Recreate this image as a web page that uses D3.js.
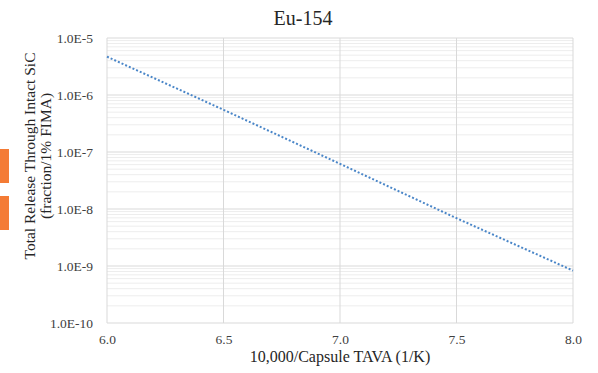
<!DOCTYPE html>
<html>
<head>
<meta charset="utf-8">
<script src="https://cdn.jsdelivr.net/npm/d3@7"></script>
<style>
  html, body { margin: 0; padding: 0; background: #fff; }
  svg { display: block; }
  svg text { font-family: "Liberation Serif", "Times New Roman", serif; }
</style>
</head>
<body>
<svg id="chart" width="598" height="373"></svg>
<script>
// Total release of Eu-154 through intact SiC versus inverse capsule temperature
const inverseTemp = [6.0, 6.5, 7.0, 7.5, 8.0];
const release = [4.7e-6, 5.5e-7, 6.2e-8, 6.9e-9, 8.3e-10];

const xTicks = [6.0, 6.5, 7.0, 7.5, 8.0];
const yTicks = [1e-10, 1e-9, 1e-8, 1e-7, 1e-6, 1e-5];
const yTickLabels = ["1.0E-10", "1.0E-9", "1.0E-8", "1.0E-7", "1.0E-6", "1.0E-5"];

const SERIF = "Liberation Serif";
const svg = d3.select("#chart");
const margin = { left: 107, right: 25, top: 38, bottom: 50 };
const W = 598, H = 373;
const x0 = margin.left, x1 = W - margin.right;
const y0 = margin.top, y1 = H - margin.bottom;

const x = d3.scaleLinear().domain([6.0, 8.0]).range([x0, x1]);
const y = d3.scaleLog().domain([1e-10, 1e-5]).range([y1, y0]);

// minor gridlines at 2..9 within each decade
const minor = [];
for (let e = -10; e < -5; e++) {
  for (let m = 2; m <= 9; m++) minor.push(m * Math.pow(10, e));
}

const grid = svg.append("g");
grid.selectAll("line.minor").data(minor).join("line")
  .attr("class", "minor")
  .attr("x1", x0).attr("x2", x1)
  .attr("y1", d => y(d)).attr("y2", d => y(d))
  .attr("stroke", "#ededed").attr("stroke-width", 1);

grid.selectAll("line.major").data(yTicks).join("line")
  .attr("class", "major")
  .attr("x1", x0).attr("x2", x1)
  .attr("y1", d => y(d)).attr("y2", d => y(d))
  .attr("stroke", "#d9d9d9").attr("stroke-width", 1);

grid.selectAll("line.vert").data(xTicks).join("line")
  .attr("class", "vert")
  .attr("x1", d => x(d)).attr("x2", d => x(d))
  .attr("y1", y0).attr("y2", y1)
  .attr("stroke", "#d9d9d9").attr("stroke-width", 1);

// axes (tick labels only)
const xAxis = d3.axisBottom(x).tickValues(xTicks).tickFormat(d3.format(".1f")).tickSize(0).tickPadding(11);
svg.append("g").attr("transform", `translate(0,${y1})`).call(xAxis)
  .attr("font-family", SERIF).attr("font-size", 13.5)
  .call(g => g.select(".domain").remove())
  .selectAll("text").attr("fill", "#404040");

const yAxis = d3.axisLeft(y).tickValues(yTicks)
  .tickFormat((d, i) => yTickLabels[i]).tickSize(0).tickPadding(14);
svg.append("g").attr("transform", `translate(${x0},0)`).call(yAxis)
  .attr("font-family", SERIF).attr("font-size", 13.5)
  .call(g => g.select(".domain").remove())
  .selectAll("text").attr("fill", "#404040");

// data line
const line = d3.line().x((d, i) => x(inverseTemp[i])).y(d => y(d));
svg.append("path").datum(release)
  .attr("d", line)
  .attr("fill", "none")
  .attr("stroke", "#4a86c8")
  .attr("stroke-width", 2)
  .attr("stroke-dasharray", "2,2");

// title
svg.append("text").attr("x", 303).attr("y", 25)
  .attr("text-anchor", "middle").attr("font-size", 20).attr("fill", "#262626")
  .text("Eu-154");

// axis titles
svg.append("text").attr("x", 340).attr("y", 362)
  .attr("text-anchor", "middle").attr("font-size", 16).attr("fill", "#262626")
  .text("10,000/Capsule TAVA (1/K)");

const yLab = svg.append("text")
  .attr("transform", "translate(35,156) rotate(-90)")
  .attr("text-anchor", "middle").attr("font-size", 15.5).attr("fill", "#262626");
yLab.append("tspan").attr("x", 0).attr("dy", 0).text("Total Release Through Intact SiC");
yLab.append("tspan").attr("x", 0).attr("dy", 16).text("(fraction/1% FIMA)");

// side markers
svg.append("rect").attr("x", 0).attr("y", 149).attr("width", 9).attr("height", 34).attr("fill", "#f47b35");
svg.append("rect").attr("x", 0).attr("y", 196).attr("width", 9).attr("height", 34).attr("fill", "#f47b35");
</script>
</body>
</html>
